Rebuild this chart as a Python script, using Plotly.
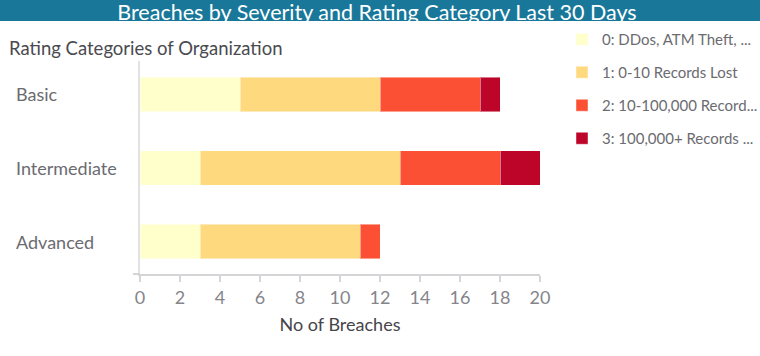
import plotly.graph_objects as go

categories = ["Basic", "Intermediate", "Advanced"]
series_names = ["0: DDos, ATM Theft, ...", "1: 0-10 Records Lost",
                "2: 10-100,000 Record...", "3: 100,000+ Records ..."]
sev0 = [5, 3, 3]
sev1 = [7, 10, 8]
sev2 = [5, 5, 1]
sev3 = [1, 2, 0]
colors = ["#FFFFCC", "#FED97E", "#FC5034", "#BD0429"]
x_ticks = [0, 2, 4, 6, 8, 10, 12, 14, 16, 18, 20]

FONT = "Lato, 'Open Sans', sans-serif"
PH = 213.0  # plot height in px
PW = 400.0  # plot width in px

fig = go.Figure()
for name, vals, col in zip(series_names, [sev0, sev1, sev2, sev3], colors):
    fig.add_trace(go.Bar(
        y=categories, x=vals, name=name, orientation="h",
        marker=dict(color=col, line=dict(color="rgba(255,255,255,0.45)", width=1)),
        width=0.47, legendgroup=name,
    ))

for c in categories:
    fig.add_annotation(x=-126 / PW, xref="paper", xanchor="left", y=c, yref="y",
                       text=c, showarrow=False,
                       font=dict(size=18, color="#6b6b70", family=FONT))

fig.add_annotation(x=-133 / PW, xref="paper", xanchor="left",
                   y=1 + (61 - 48) / PH, yref="paper", yanchor="middle",
                   text="Rating Categories of Organization", showarrow=False,
                   font=dict(size=18.5, color="#4a4a4f", family=FONT))

fig.update_layout(
    width=760, height=356,
    margin=dict(l=140, r=220, t=61, b=82, autoexpand=False),
    paper_bgcolor="white", plot_bgcolor="white",
    barmode="stack",
    font=dict(family=FONT),
    showlegend=True,
    legend=dict(x=1 + 22 / PW, y=1 + (61 - 23) / PH, xanchor="left", yanchor="top",
                traceorder="grouped", tracegroupgap=10.5,
                font=dict(size=15, color="#6b6b70", family=FONT),
                bgcolor="rgba(0,0,0,0)"),
    xaxis=dict(range=[0, 20], tickvals=x_ticks, showgrid=False, zeroline=False,
               showline=True, linecolor="#d5d5d8", linewidth=2,
               ticks="outside", ticklen=6, tickcolor="#d5d5d8", tickwidth=1.5,
               tickfont=dict(size=18, color="#85858a", family=FONT),
               title=dict(text="No of Breaches", standoff=12,
                          font=dict(size=18, color="#45454a", family=FONT))),
    yaxis=dict(categoryorder="array", categoryarray=categories,
               range=[2.44, -0.455], showticklabels=False, showgrid=False,
               zeroline=False, showline=True, linecolor="#e2e2e5", linewidth=1.5,
               ticks=""),
    shapes=[
        dict(type="rect", xref="paper", yref="paper", x0=-1, x1=2,
             y0=1 + (61 - 21) / PH, y1=1 + 70 / PH,
             fillcolor="#19789A", line=dict(width=0), layer="below"),
        dict(type="line", xref="paper", yref="paper", x0=-7 / PW, x1=0,
             y0=0, y1=0, line=dict(color="#d5d5d8", width=2)),
    ],
    title=dict(text="Breaches by Severity and Rating Category Last 30 Days",
               x=377 / 760, xanchor="center", y=1 - 12 / 356, yanchor="middle",
               font=dict(size=21.5, color="white", family=FONT)),
)

fig.write_html("out.html", config={"displayModeBar": False},
               post_script="document.body.style.margin='0';")
